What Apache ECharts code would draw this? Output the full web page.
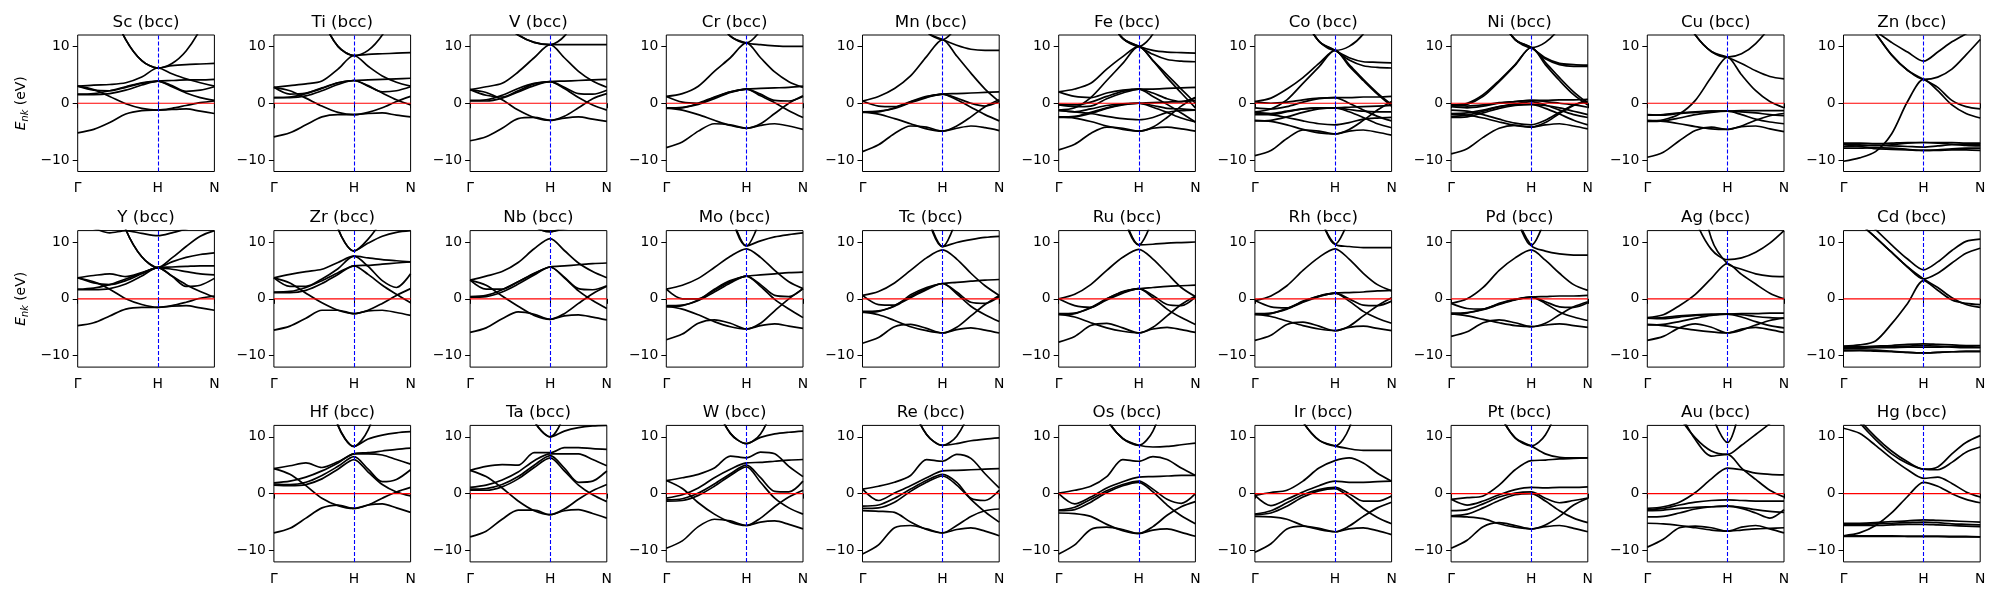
<!DOCTYPE html>
<html><head><meta charset="utf-8">
<script src="https://cdn.jsdelivr.net/npm/echarts@6/dist/echarts.min.js"></script>
<style>html,body{margin:0;padding:0;background:#fff}#c{width:2000px;height:600px}</style>
</head><body><div id="c"></div>
<script>
// k-path sample points (Γ=0, H=1, N=1+√2/2)
const K = [0, 0.2, 0.4, 0.6, 0.8, 1, 1.1768, 1.3536, 1.5303, 1.7071];
const kTicks = [0, 1, 1.7071];
const kLabels = ['Γ', 'H', 'N'];
const yTicks = [-10, 0, 10];
const layoutRows = [
  ['Sc','Ti','V','Cr','Mn','Fe','Co','Ni','Cu','Zn'],
  ['Y','Zr','Nb','Mo','Tc','Ru','Rh','Pd','Ag','Cd'],
  [null,'Hf','Ta','W','Re','Os','Ir','Pt','Au','Hg']
];

// ---- band energies (eV) at the K points ----
const Sc = [
  [-5.2,-4.6,-3.4,-1.9,-1.3,-1.2,-1.1,-1.0,-1.4,-1.8],
  [3.0,2.4,1.2,-0.1,-0.9,-1.2,-0.9,-0.4,0.1,0.4],
  [1.5,1.5,1.7,2.3,3.2,3.9,2.9,1.8,1.0,0.5],
  [1.6,1.7,2.2,2.9,3.6,3.9,3.1,2.1,2.3,2.9],
  [3.0,2.3,2.2,2.8,3.5,3.9,4.0,4.1,4.1,4.2],
  [3.0,3.2,3.3,3.6,4.6,6.2,5.2,4.3,3.6,3.0],
  [37.6,26.3,17.5,11.2,7.5,6.2,6.6,6.8,6.9,7.0],
  [37.6,26.3,17.5,11.2,7.5,6.2,7.0,9.2,13.0,18.3]
];
const Ti = [
  [-5.9,-5.2,-3.8,-2.4,-2.0,-2.0,-1.8,-1.7,-2.1,-2.4],
  [2.8,2.2,0.9,-0.5,-1.6,-2.0,-1.6,-0.8,0.3,1.2],
  [1.0,1.0,1.3,2.2,3.3,4.0,3.0,1.8,0.6,-0.3],
  [1.0,1.1,1.7,2.7,3.6,4.0,3.1,2.0,2.2,2.9],
  [2.8,1.6,1.8,2.6,3.6,4.0,4.1,4.2,4.3,4.4],
  [2.8,3.1,3.4,3.9,6.0,8.4,6.5,4.8,3.7,3.0],
  [49,34,23,15,10.0,8.4,8.6,8.7,8.8,8.9],
  [49,34,23,15,10.0,8.4,9.3,12.0,16.5,23]
];
const V = [
  [-6.6,-5.9,-4.4,-2.7,-2.5,-3.0,-2.6,-2.4,-2.8,-3.2],
  [2.4,1.9,0.6,-1.2,-2.5,-3.0,-2.3,-0.8,0.8,1.7],
  [0.4,0.4,0.9,2.0,3.1,3.8,2.6,1.0,-0.3,-1.2],
  [0.5,0.6,1.4,2.6,3.5,3.8,2.8,1.7,1.6,2.3],
  [2.4,1.4,1.1,2.2,3.4,3.8,3.9,4.0,4.1,4.2],
  [2.4,2.9,3.5,5.5,8.0,10.3,8.0,5.6,3.9,2.8],
  [25,19,14.2,12.0,10.7,10.3,10.3,10.3,10.3,10.3],
  [25,19,14.2,12.0,10.7,10.3,11.8,16,23,31]
];
const Cr = [
  [-7.8,-6.8,-4.9,-3.6,-3.8,-4.4,-3.9,-3.6,-4.0,-4.6],
  [-0.8,-1.2,-2.0,-3.0,-3.9,-4.4,-3.6,-1.8,0.0,1.3],
  [-0.8,-0.7,-0.2,0.8,1.9,2.5,1.3,0.1,-1.3,-2.5],
  [-0.9,-0.8,0.0,1.1,2.0,2.5,1.6,0.5,0.4,1.2],
  [1.2,0.2,0.0,1.0,2.0,2.5,2.6,2.7,2.8,3.0],
  [1.2,1.7,3.0,5.6,8.0,10.6,8.0,5.5,3.8,2.8],
  [60,40,25,16,11.8,10.6,10.3,10.1,10.0,10.0],
  [60,40,25,16,11.8,10.6,12.8,17,23,30]
];
const Mn = [
  [-8.5,-7.3,-5.3,-4.0,-4.2,-4.9,-4.4,-4.0,-4.3,-4.8],
  [-1.5,-1.9,-2.7,-3.6,-4.5,-4.9,-4.0,-2.4,-0.6,0.6],
  [-1.5,-1.4,-0.9,0.1,1.0,1.6,0.6,-0.7,-2.0,-3.1],
  [-1.6,-1.5,-0.8,0.2,1.1,1.6,0.9,0.0,-0.5,0.3],
  [0.4,-0.5,-0.6,0.3,1.2,1.6,1.7,1.8,1.9,2.0],
  [0.4,1.2,2.6,4.8,8.2,11.2,8.3,5.3,2.5,0.3],
  [80,52,32,18,12.6,11.2,10.2,9.5,9.3,9.3],
  [80,52,32,18,12.6,11.2,13.5,18,25,33]
];
const Fe = [
  [-8.2,-7.2,-5.3,-4.2,-4.4,-4.9,-4.4,-4.2,-4.5,-4.9],
  [-2.4,-2.6,-3.2,-4.0,-4.6,-4.9,-4.2,-2.5,-0.5,1.0],
  [-1.3,-1.5,-1.8,-2.3,-2.7,-2.9,-2.5,-1.6,-1.3,-1.2],
  [-2.5,-2.4,-1.8,-0.9,-0.3,0.0,-0.7,-1.6,-2.6,-3.3],
  [-2.4,-2.3,-1.6,-0.8,-0.2,0.0,-0.4,-0.9,-1.0,-1.2],
  [-1.2,-1.5,-1.0,-0.4,-0.1,0.0,0.1,0.2,0.3,0.5],
  [-0.3,-0.6,-0.5,0.8,1.8,2.5,1.2,-0.2,-1.7,-3.3],
  [-0.2,-0.3,0.2,1.2,2.1,2.5,1.8,0.8,0.3,1.0],
  [2.0,1.2,1.0,1.8,2.3,2.5,2.5,2.6,2.7,2.8],
  [2.0,2.5,3.5,6.0,8.2,10.0,7.5,5.0,2.5,0.0],
  [-1.2,-0.8,1.0,4.0,7.0,10.0,7.5,4.5,1.8,-0.8],
  [45,32,22,15.6,11.4,10.0,9.3,9.0,8.9,8.8],
  [45,32,22,15.6,11.4,10.0,8.6,7.7,7.4,7.3],
  [45,32,22,15.6,11.4,10.0,12.2,18.6,28,44]
];
const Co = [
  [-9.2,-8.3,-6.2,-4.7,-4.9,-5.4,-4.9,-4.7,-5.1,-5.6],
  [-3.0,-3.2,-3.8,-4.6,-5.2,-5.4,-4.6,-3.0,-1.2,0.3],
  [-1.7,-2.0,-2.5,-3.1,-3.6,-3.8,-3.4,-2.8,-2.6,-2.5],
  [-3.1,-3.0,-2.4,-1.6,-1.0,-0.8,-1.5,-2.5,-3.6,-4.3],
  [-2.0,-2.0,-1.5,-1.0,-0.8,-0.8,-1.1,-1.4,-1.5,-1.5],
  [-1.6,-1.8,-1.4,-1.0,-0.8,-0.8,-0.7,-0.6,-0.5,-0.4],
  [-0.8,-1.0,-0.6,0.2,0.8,1.0,0.0,-1.2,-2.3,-3.1],
  [0.3,0.0,0.2,0.6,0.9,1.0,1.0,1.1,1.1,1.2],
  [-1.5,-1.0,0.6,3.5,6.4,9.3,6.8,4.2,1.8,-0.2],
  [0.3,0.9,2.5,4.5,7.0,9.3,6.5,4.0,1.6,-0.5],
  [49,35,23.7,15.7,10.9,9.3,8.0,7.3,7.2,7.1],
  [49,35,23.7,15.7,10.9,9.3,7.6,6.6,6.3,6.2],
  [49,35,23.7,15.7,10.9,9.3,10.0,12.2,16.5,22]
];
const Ni = [
  [-8.9,-8.0,-6.0,-4.4,-3.9,-4.2,-3.8,-3.6,-4.0,-4.5],
  [-1.9,-2.1,-2.6,-3.3,-3.9,-4.2,-3.4,-1.8,-0.4,0.7],
  [-1.2,-1.4,-2.0,-2.8,-3.5,-3.8,-3.0,-1.6,-0.3,0.3],
  [-2.5,-2.4,-1.7,-0.9,-0.4,-0.2,-0.9,-1.9,-3.0,-3.8],
  [-2.3,-2.1,-1.4,-0.6,-0.1,0.3,-0.3,-1.2,-2.0,-2.5],
  [-1.8,-1.7,-1.2,-0.6,-0.3,-0.2,-0.4,-0.8,-1.4,-2.0],
  [-0.6,-0.8,-0.5,0.0,0.3,0.5,0.5,0.6,0.6,0.7],
  [-0.3,-0.5,-0.3,0.1,0.3,0.5,0.3,0.0,-0.3,-0.7],
  [-0.3,0.0,1.5,4.0,6.8,9.8,6.8,4.0,1.5,-0.3],
  [-0.5,-0.2,1.2,3.8,6.7,9.8,7.2,4.5,2.0,0.0],
  [45,32,22.4,15.4,11.2,9.8,8.0,7.0,6.8,6.7],
  [45,32,22.4,15.4,11.2,9.8,7.8,6.8,6.5,6.5],
  [45,32,22.4,15.4,11.2,9.8,10.7,13.3,18,24]
];
const Cu = [
  [-9.5,-8.6,-6.6,-4.8,-4.2,-4.6,-4.1,-4.0,-4.5,-5.0],
  [-3.0,-3.2,-3.6,-4.1,-4.5,-4.6,-4.0,-3.0,-2.2,-1.8],
  [-3.2,-3.1,-2.6,-2.0,-1.6,-1.4,-2.0,-2.8,-3.3,-3.6],
  [-2.0,-2.1,-1.8,-1.6,-1.4,-1.4,-1.5,-1.7,-2.0,-2.2],
  [-2.1,-2.0,-1.7,-1.5,-1.4,-1.4,-1.3,-1.3,-1.3,-1.3],
  [-3.1,-2.9,-1.9,0.5,4.6,8.1,5.0,2.2,0.3,-0.8],
  [46,33,16.7,12.0,9.1,8.1,7.0,5.7,4.7,4.3],
  [46,33,16.7,12.0,9.1,8.1,8.7,10.5,13.5,18]
];
const Zn = [
  [-10.2,-9.6,-8.5,-5.4,0.3,4.2,2.2,-0.3,-1.8,-2.6],
  [20,16,12.3,8.5,5.8,4.2,2.8,0.5,-0.6,-1.0],
  [20,16,12.3,8.5,5.8,4.2,4.6,6.0,8.5,11.2],
  [20,16,12.8,10.7,9.0,7.4,9.0,10.8,12.2,13.5],
  [-7.0,-7.0,-7.1,-7.0,-6.9,-6.9,-6.9,-6.9,-7.0,-7.0],
  [-7.2,-7.3,-7.4,-7.3,-7.0,-6.9,-7.0,-7.2,-7.4,-7.5],
  [-7.6,-7.5,-7.4,-7.5,-7.6,-7.7,-7.5,-7.3,-7.2,-7.2],
  [-7.9,-7.9,-7.8,-7.9,-8.1,-8.3,-8.2,-8.0,-7.9,-7.9],
  [-7.3,-7.6,-8.0,-8.1,-8.2,-8.3,-8.3,-8.2,-8.2,-8.3]
];
const Y = [
  [-4.7,-4.2,-3.0,-1.8,-1.5,-1.5,-1.3,-1.2,-1.6,-2.0],
  [3.7,3.0,1.7,0.0,-1.0,-1.5,-1.2,-0.6,0.1,0.5],
  [1.6,1.6,1.8,2.6,4.0,5.5,4.0,2.5,1.3,0.3],
  [1.7,1.9,2.5,3.5,4.5,5.5,4.0,2.2,2.4,3.6],
  [3.7,4.1,4.4,3.9,4.6,5.5,5.6,5.7,5.8,5.8],
  [3.7,2.8,2.5,3.2,4.4,5.5,5.2,4.8,4.4,4.2],
  [47,32,20.6,12.2,7.4,5.5,7.2,9.2,11.0,12.0],
  [47,32,20.6,12.2,7.4,5.5,6.5,7.3,7.8,8.1],
  [13,12.4,11.6,12.0,11.5,11.1,11.6,12.3,13,13]
];
const Zr = [
  [-5.5,-4.8,-3.4,-2.0,-2.0,-2.6,-2.1,-2.0,-2.4,-2.9],
  [3.7,2.8,1.0,-0.7,-2.0,-2.6,-2.0,-0.8,0.6,1.8],
  [1.1,1.1,1.5,2.7,4.3,5.8,4.3,2.4,0.8,-0.7],
  [1.2,1.3,2.0,3.2,4.6,5.8,5.9,6.1,6.3,6.5],
  [3.7,2.2,2.2,3.5,5.3,7.5,5.7,3.2,2.0,4.4],
  [3.7,4.3,4.8,5.2,6.4,7.5,7.2,6.9,6.7,6.5],
  [110,72,41,24,12.4,8.4,10.5,14,19,25],
  [110,72,41,24,12.4,8.4,9.8,11.0,11.7,12.0]
];
const Nb = [
  [-5.9,-5.1,-3.5,-2.3,-2.7,-3.6,-3.0,-2.8,-3.2,-3.7],
  [3.3,2.4,0.5,-1.3,-2.9,-3.6,-2.6,-0.8,0.9,2.2],
  [0.3,0.4,1.2,2.6,4.2,5.6,3.7,1.4,-0.3,-1.7],
  [0.4,0.6,1.6,3.0,4.4,5.6,3.8,1.8,1.6,2.3],
  [3.3,1.7,1.7,3.0,4.5,5.6,5.8,6.0,6.2,6.3],
  [3.3,4.0,4.8,6.4,8.8,10.6,8.5,6.3,4.8,3.7],
  [110,72,41,22,13,11.8,13,16,20,25],
  [110,72,41,22,13,11.8,12.3,12.8,13.2,13.5]
];
const Mo = [
  [-7.2,-6.2,-4.3,-3.7,-4.3,-5.3,-4.7,-4.4,-4.8,-5.2],
  [-1.3,-1.8,-2.8,-4.0,-4.9,-5.3,-4.3,-2.1,0.0,1.8],
  [-1.2,-1.1,-0.3,1.2,2.8,4.0,2.2,-0.1,-1.8,-3.3],
  [-1.4,-1.2,-0.2,1.5,3.0,4.0,2.5,0.6,0.4,1.8],
  [1.7,0.0,0.0,1.7,3.2,4.0,4.2,4.4,4.6,4.7],
  [1.7,2.4,3.6,5.5,7.5,8.8,7.3,5.0,3.0,1.8],
  [250,170,110,35,15.7,9.3,14.5,30,55,90],
  [250,170,110,35,15.7,9.3,10.2,10.9,11.3,11.6]
];
const Tc = [
  [-7.8,-6.8,-4.9,-4.5,-5.2,-6.0,-5.4,-5.1,-5.5,-6.0],
  [-2.3,-2.8,-3.8,-4.9,-5.6,-6.0,-5.0,-3.0,-1.0,0.6],
  [-2.2,-2.1,-1.3,0.2,1.6,2.7,0.9,-1.3,-2.8,-4.0],
  [-2.4,-2.2,-1.2,0.4,1.8,2.7,1.2,-0.6,-0.8,0.4],
  [0.6,-1.0,-1.1,0.7,2.0,2.7,2.9,3.1,3.3,3.4],
  [0.6,1.3,2.8,5.0,7.2,8.6,7.0,4.5,2.3,0.6],
  [250,170,110,35,15.5,9.2,14.5,30,55,90],
  [250,170,110,35,15.5,9.2,9.9,10.4,10.8,11.0]
];
const Ru = [
  [-7.6,-6.6,-4.7,-4.3,-5.1,-6.0,-5.3,-5.0,-5.4,-5.9],
  [-2.7,-3.2,-4.2,-5.1,-5.7,-6.0,-5.0,-3.0,-1.0,0.5],
  [-2.6,-2.5,-1.6,-0.2,1.0,1.8,0.2,-1.8,-3.3,-4.5],
  [-2.8,-2.6,-1.5,0.0,1.2,1.8,0.6,-1.0,-1.2,0.3],
  [0.0,-1.2,-1.5,0.0,1.3,1.8,2.0,2.2,2.3,2.4],
  [0.0,0.8,2.5,5.0,7.3,8.7,7.0,4.5,2.0,0.4],
  [250,170,110,35,15.5,9.5,14.5,30,55,90],
  [250,170,110,35,15.5,9.5,9.6,9.8,9.9,10.0]
];
const Rh = [
  [-7.3,-6.4,-4.5,-4.1,-4.8,-5.6,-5.0,-4.8,-5.2,-5.6],
  [-2.7,-3.1,-3.9,-4.7,-5.3,-5.6,-4.8,-3.0,-1.2,0.2],
  [-2.6,-2.5,-1.8,-0.6,0.4,1.0,-0.4,-2.2,-3.4,-4.3],
  [-2.8,-2.6,-1.7,-0.5,0.5,1.0,0.0,-1.1,-1.2,-0.4],
  [-0.3,-1.4,-1.6,-0.4,0.5,1.0,1.1,1.2,1.4,1.5],
  [-0.3,0.5,2.3,5.0,7.3,8.8,7.0,4.5,2.5,1.4],
  [250,170,110,35,15.5,9.6,14.5,30,55,90],
  [250,170,110,35,15.5,9.6,9.2,9.0,9.0,9.0]
];
const Pd = [
  [-6.6,-5.8,-4.2,-3.7,-4.2,-4.9,-4.6,-4.4,-4.7,-5.0],
  [-2.6,-3.0,-3.6,-4.2,-4.7,-4.9,-4.3,-2.8,-1.4,-0.5],
  [-2.5,-2.4,-1.9,-1.0,-0.2,0.3,-0.8,-2.3,-3.2,-3.8],
  [-2.7,-2.5,-1.8,-0.9,-0.1,0.3,-0.5,-1.4,-1.5,-0.7],
  [-0.8,-1.7,-1.8,-0.8,-0.1,0.3,0.4,0.5,0.5,0.6],
  [-0.8,0.0,2.0,5.0,7.2,8.6,6.8,4.5,2.5,1.5],
  [250,170,110,35,15.5,9.4,14.5,30,55,90],
  [250,170,110,35,15.5,9.4,8.4,7.9,7.7,7.7]
];
const Ag = [
  [-7.3,-6.6,-5.1,-4.4,-5.0,-6.0,-5.3,-5.0,-5.4,-5.9],
  [-4.5,-4.7,-5.1,-5.5,-5.8,-6.0,-5.5,-4.6,-3.8,-3.4],
  [-4.6,-4.5,-4.0,-3.4,-2.9,-2.7,-3.2,-4.0,-4.7,-5.1],
  [-3.4,-3.5,-3.2,-2.9,-2.8,-2.7,-2.8,-3.1,-3.3,-3.4],
  [-3.4,-3.3,-3.0,-2.8,-2.7,-2.7,-2.6,-2.6,-2.5,-2.5],
  [-3.3,-2.8,-1.2,0.8,3.6,6.2,4.3,2.6,1.0,0.0],
  [116,76,46,23.8,10.6,6.2,5.2,4.4,4.0,3.9],
  [51,35,22.7,13.9,8.7,6.9,7.2,8.2,9.8,12.0]
];
const Cd = [
  [-8.3,-8.1,-7.4,-4.4,-0.8,3.2,1.5,-0.2,-0.8,-1.0],
  [18,13.5,10.8,8.2,5.6,3.5,2.0,0.2,-1.0,-1.5],
  [18,13.5,10.8,8.2,5.6,3.5,4.5,6.3,8.0,8.9],
  [18,15,12.2,9.5,7.0,5.1,6.5,8.5,10.1,10.5],
  [-8.4,-8.4,-8.3,-8.2,-8.0,-7.9,-8.0,-8.1,-8.2,-8.2],
  [-8.6,-8.6,-8.5,-8.4,-8.3,-8.2,-8.3,-8.5,-8.6,-8.6],
  [-8.8,-8.7,-8.6,-8.6,-8.5,-8.5,-8.5,-8.4,-8.4,-8.5],
  [-9.1,-9.1,-9.2,-9.3,-9.4,-9.5,-9.4,-9.3,-9.3,-9.3],
  [-9.1,-9.0,-9.0,-9.2,-9.4,-9.5,-9.4,-9.3,-9.2,-9.2]
];
const Hf = [
  [-6.9,-6.1,-4.3,-2.5,-2.0,-2.6,-2.0,-1.8,-2.5,-3.3],
  [4.4,3.4,1.4,-0.8,-2.1,-2.6,-2.0,-0.8,0.3,1.1],
  [1.5,1.4,1.6,2.6,4.3,6.0,3.8,1.6,0.3,-0.4],
  [1.7,1.6,2.0,3.2,4.8,6.5,4.3,2.1,2.5,4.2],
  [1.9,2.2,2.9,4.0,5.4,7.0,7.0,6.8,6.0,5.2],
  [4.4,4.9,5.4,4.6,5.6,7.0,7.2,7.5,7.8,8.0],
  [100,67,41,23,12,8.3,9.6,10.3,10.7,10.9],
  [100,67,41,23,12,8.3,11.2,19,30,44]
];
const Ta = [
  [-7.6,-6.6,-4.5,-2.9,-2.9,-3.7,-3.0,-2.8,-3.5,-4.3],
  [4.1,3.0,1.0,-1.3,-3.0,-3.7,-2.7,-1.0,0.5,1.6],
  [0.6,0.6,1.2,2.6,4.6,6.3,4.0,1.5,-0.2,-1.4],
  [0.8,0.9,1.6,3.0,5.0,6.7,4.5,2.0,2.2,4.0],
  [1.1,1.5,2.4,3.8,5.8,7.0,7.0,7.0,6.0,4.9],
  [4.1,4.8,5.1,5.0,7.2,7.2,8.1,8.1,7.9,7.8],
  [79,54,35,21,12.8,10.0,14,26,45,70],
  [79,54,35,21,12.8,10.0,11.0,11.6,11.9,12.0]
];
const W = [
  [-9.6,-8.3,-5.8,-4.5,-4.8,-5.6,-5.0,-4.8,-5.4,-6.2],
  [2.3,0.9,-1.6,-3.6,-5.0,-5.6,-4.3,-2.3,-0.6,0.6],
  [-1.3,-1.2,-0.3,1.3,3.2,4.7,2.0,-0.8,-2.5,-3.6],
  [-1.1,-0.9,0.1,1.7,3.5,5.0,2.8,0.4,0.3,2.2],
  [-0.8,-0.2,1.0,2.8,4.3,5.4,5.5,5.7,5.9,6.0],
  [2.3,2.8,3.4,4.5,6.6,6.3,7.3,7.0,4.8,3.0],
  [55,37,25.4,16.2,10.6,8.8,10.5,15.8,24,36],
  [55,37,25.4,16.2,10.6,8.8,9.9,10.5,10.8,11.0]
];
const Re = [
  [-10.6,-9.0,-6.0,-5.6,-6.2,-6.9,-6.3,-6.0,-6.6,-7.4],
  [-3.0,-3.1,-3.3,-5.0,-6.3,-6.9,-5.6,-4.0,-3.0,-2.7],
  [-2.6,-2.5,-1.5,0.4,2.0,3.1,1.5,-1.0,-3.2,-5.0],
  [-2.2,-2.0,-0.8,0.8,2.3,3.4,2.0,-0.8,-1.2,0.6],
  [0.8,-1.2,0.1,1.4,2.8,4.0,4.1,4.2,4.3,4.4],
  [0.8,1.3,2.0,3.2,6.0,5.7,6.9,6.2,3.5,1.0],
  [56,37,25.8,16.2,10.4,8.5,10.1,15,23,35],
  [56,37,25.8,16.2,10.4,8.5,8.8,9.3,9.6,9.8]
];
const Os = [
  [-10.6,-9.0,-6.3,-5.9,-6.3,-7.0,-6.4,-6.2,-6.8,-7.5],
  [-3.4,-3.5,-4.0,-5.4,-6.5,-7.0,-5.8,-3.8,-2.3,-1.4],
  [-3.0,-2.8,-1.5,0.2,1.4,2.0,0.3,-2.0,-3.9,-5.3],
  [-2.9,-2.4,-1.0,0.5,1.6,2.2,0.8,-1.0,-1.7,0.0],
  [0.0,-1.8,-0.6,1.0,2.1,2.9,3.0,3.1,3.2,3.2],
  [0.1,0.6,1.3,3.0,6.0,5.7,6.5,6.0,4.5,3.2],
  [37,28,18.9,13.1,9.7,8.5,11.0,18.5,31,48],
  [37,28,18.9,13.1,9.7,8.5,8.2,8.3,8.6,8.9]
];
const Ir = [
  [-10.3,-8.8,-6.2,-5.7,-6.1,-6.7,-6.2,-6.0,-6.5,-7.2],
  [-4.0,-4.1,-4.5,-5.6,-6.3,-6.7,-5.7,-4.0,-2.5,-1.5],
  [-3.7,-3.4,-2.2,-0.6,0.5,0.9,-0.6,-2.6,-4.2,-5.3],
  [-3.6,-3.0,-1.6,-0.2,0.7,1.1,0.0,-1.3,-1.3,-0.4],
  [-0.3,-2.1,-1.0,0.3,1.4,2.2,2.0,2.0,2.1,2.2],
  [-0.3,0.2,0.6,2.2,4.5,5.8,6.3,5.4,3.6,2.2],
  [34,25,17.8,12.6,9.4,8.4,11.5,21,36,58],
  [34,25,17.8,12.6,9.4,8.4,7.9,7.6,7.6,7.6]
];
const Pt = [
  [-9.6,-8.2,-5.8,-5.1,-5.6,-6.2,-5.8,-5.6,-6.1,-6.7],
  [-4.0,-4.1,-4.4,-5.3,-5.9,-6.2,-5.5,-4.0,-2.0,-0.8],
  [-3.9,-3.6,-2.5,-1.2,-0.2,0.0,-1.3,-3.0,-4.3,-5.1],
  [-3.0,-2.8,-1.8,-0.6,0.1,0.3,-0.8,-1.6,-1.2,-0.8],
  [-1.0,-2.0,-1.3,-0.2,0.7,1.1,1.0,1.1,1.1,1.2],
  [-1.0,-0.7,-0.4,1.5,4.2,5.8,5.9,6.1,6.2,6.3],
  [46,32,21.4,14.2,9.8,8.4,10.3,16.2,26,40],
  [46,32,21.4,14.2,9.8,8.4,7.0,6.4,6.3,6.3]
];
const Au = [
  [-9.4,-8.0,-6.0,-5.7,-6.0,-6.6,-5.9,-5.6,-6.2,-6.9],
  [-5.2,-5.3,-5.6,-6.0,-6.4,-6.6,-6.4,-6.2,-6.1,-6.0],
  [-4.1,-4.0,-3.4,-2.7,-2.3,-2.2,-2.6,-3.4,-4.3,-2.8],
  [-3.0,-2.9,-2.6,-2.4,-2.3,-2.2,-2.4,-2.8,-3.1,-3.3],
  [-2.8,-2.6,-2.0,-1.5,-1.2,-1.1,-1.2,-1.3,-1.3,-1.3],
  [-2.6,-2.3,-1.5,0.2,2.6,4.5,4.2,3.6,3.4,3.3],
  [30,21,14.5,9.5,6.6,6.9,4.5,2.5,0.6,-0.6],
  [25,18.6,13.5,9.8,7.5,6.9,8.5,10.4,12.3,14.5],
  [142,94,57,30,14.3,9.0,16.8,40,80,134]
];
const Hg = [
  [-7.4,-6.9,-5.6,-3.4,-0.5,2.0,1.3,0.0,-1.0,-1.6],
  [11.5,10.6,8.5,6.2,4.2,2.7,2.9,1.8,0.3,-0.6],
  [16,12.5,9.5,7.0,5.3,4.3,4.2,5.5,7.3,8.2],
  [17,13,10,7.5,5.6,4.3,4.7,7.0,9.0,10.2],
  [-5.2,-5.2,-5.1,-4.9,-4.8,-4.6,-4.7,-4.8,-4.9,-5.0],
  [-5.5,-5.4,-5.3,-5.2,-5.1,-5.0,-5.1,-5.3,-5.4,-5.5],
  [-5.6,-5.6,-5.6,-5.5,-5.4,-5.4,-5.5,-5.6,-5.7,-5.8],
  [-7.4,-7.4,-7.4,-7.4,-7.5,-7.5,-7.5,-7.5,-7.5,-7.6],
  [-7.5,-7.5,-7.5,-7.5,-7.5,-7.5,-7.5,-7.6,-7.6,-7.6]
];

const bandSets = {Sc,Ti,V,Cr,Mn,Fe,Co,Ni,Cu,Zn,Y,Zr,Nb,Mo,Tc,Ru,Rh,Pd,Ag,Cd,Hf,Ta,W,Re,Os,Ir,Pt,Au,Hg};

// ---- layout / styling ----
const FONT = 'DejaVu Sans';
const X0 = 77.7, DX = 196.2, PW = 136.7, PH = 136.5;
const ROWTOP = [35, 230.6, 425.4];
const fmtY = v => (v < 0 ? '\u2212' + (-v) : String(v));

const grids = [], xAxes = [], yAxes = [], series = [], titles = [];
let gi = 0;
layoutRows.forEach((row, r) => {
  row.forEach((name, c) => {
    if (!name) return;
    const left = X0 + c * DX, top = ROWTOP[r];
    grids.push({left, top, width: PW, height: PH, show: true, borderColor: '#000', borderWidth: 1, backgroundColor: 'transparent'});
    xAxes.push({
      type: 'value', gridIndex: gi, min: 0, max: kTicks[kTicks.length - 1],
      axisLine: {show: false},
      axisTick: {show: true, length: 5, lineStyle: {color: '#000', width: 1}, customValues: kTicks},
      axisLabel: {customValues: kTicks, formatter: v => kLabels[kTicks.findIndex(t => Math.abs(t - v) < 1e-3)] || '',
        fontSize: 13.9, color: '#000', fontFamily: FONT, margin: 10},
      splitLine: {show: false}
    });
    const ya = {
      type: 'value', gridIndex: gi, min: -12, max: 12,
      axisLine: {show: false},
      axisTick: {show: true, length: 5, lineStyle: {color: '#000', width: 1}, customValues: yTicks},
      axisLabel: {customValues: yTicks, formatter: fmtY, fontSize: 13.9, color: '#000', fontFamily: FONT, margin: 8},
      splitLine: {show: false}
    };
    if (c === 0) {
      ya.name = '{e|E}{s|nk}{t| (eV)}';
      ya.nameLocation = 'middle';
      ya.nameRotate = 90;
      ya.nameGap = 47;
      ya.nameTextStyle = {
        color: '#000', fontFamily: FONT,
        rich: {
          e: {fontSize: 13.9, fontStyle: 'italic', fontFamily: FONT, color: '#000', verticalAlign: 'middle', lineHeight: 18},
          s: {fontSize: 9.7, fontStyle: 'italic', fontFamily: FONT, color: '#000', verticalAlign: 'bottom', lineHeight: 18},
          t: {fontSize: 13.9, fontFamily: FONT, color: '#000', verticalAlign: 'middle', lineHeight: 18}
        }
      };
    }
    yAxes.push(ya);
    titles.push({
      text: name + ' (bcc)', left: left + PW / 2, top: top - 21, textAlign: 'center', padding: 0,
      textStyle: {fontSize: 16.7, fontWeight: 'normal', fontFamily: FONT, color: '#000'}
    });
    bandSets[name].forEach(b => {
      series.push({
        type: 'line', xAxisIndex: gi, yAxisIndex: gi, data: K.map((k, j) => [k, b[j]]),
        symbol: 'none', showSymbol: false, smooth: 0.3, silent: true, z: 2, clip: true,
        lineStyle: {color: '#000', width: 1.7}
      });
    });
    series.push({
      type: 'line', xAxisIndex: gi, yAxisIndex: gi,
      data: [[kTicks[0], 0], [kTicks[kTicks.length - 1], 0]],
      symbol: 'none', silent: true, z: 3,
      lineStyle: {color: '#ff0000', width: 1.1},
      markLine: {
        symbol: ['none', 'none'], silent: true, label: {show: false}, animation: false,
        lineStyle: {color: '#0000ff', width: 1.1, type: [4, 2]},
        data: [{xAxis: kTicks[1]}]
      }
    });
    gi++;
  });
});

const chart = echarts.init(document.getElementById('c'), null, {renderer: 'canvas'});
chart.setOption({
  backgroundColor: '#fff',
  animation: false,
  title: titles,
  grid: grids,
  xAxis: xAxes,
  yAxis: yAxes,
  series: series
});
</script>
</body></html>
